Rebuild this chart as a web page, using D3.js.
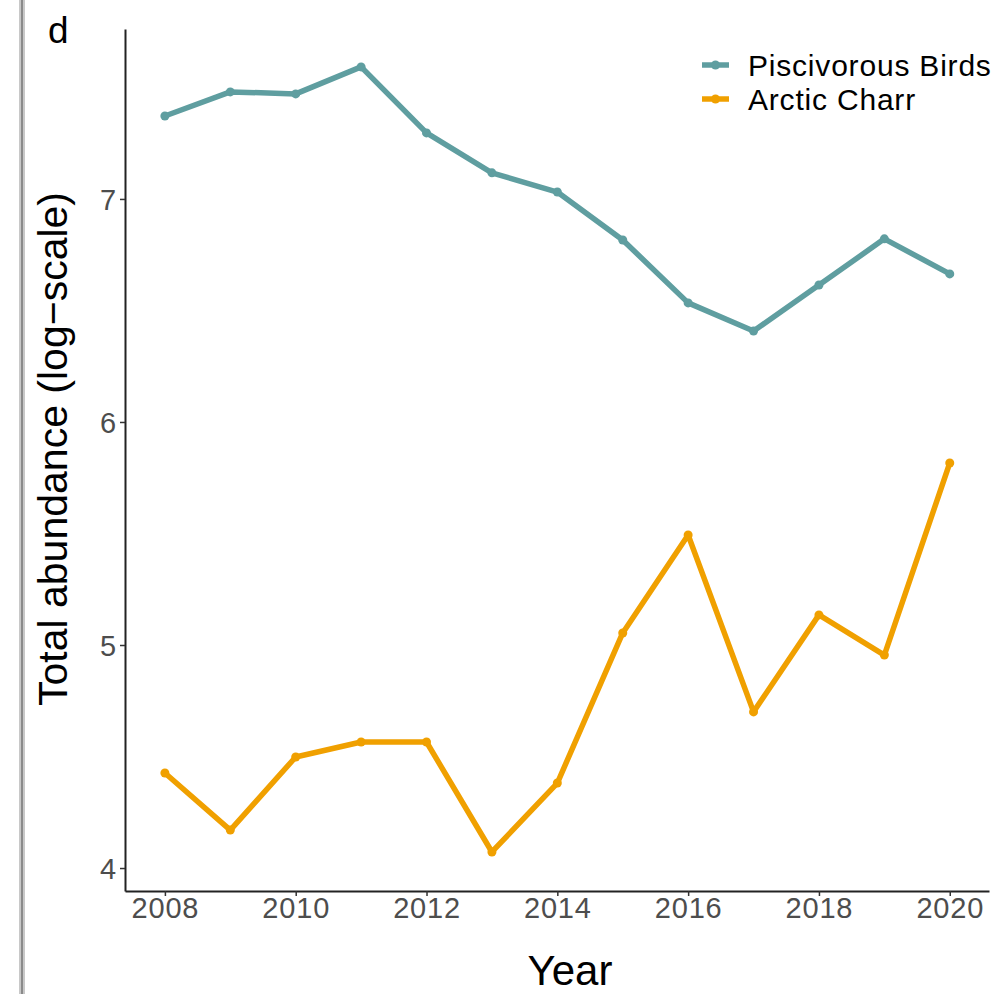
<!DOCTYPE html>
<html><head><meta charset="utf-8">
<script src="https://cdn.jsdelivr.net/npm/d3@7"></script>
<style>body{margin:0;background:#fff}svg{display:block;font-family:"Liberation Sans",Arial,Helvetica,sans-serif}</style>
</head><body>
<script>
const years = [2008,2009,2010,2011,2012,2013,2014,2015,2016,2017,2018,2019,2020];
const birds = [7.372,7.480,7.471,7.592,7.296,7.117,7.031,6.816,6.534,6.408,6.614,6.821,6.664];
const charr = [4.426,4.170,4.498,4.565,4.565,4.072,4.381,5.054,5.493,4.700,5.135,4.955,5.816];
const seriesNames = ["Piscivorous Birds","Arctic Charr"];
const seriesColors = ["#5F9EA0","#F0A000"];
const xTicks = [2008,2010,2012,2014,2016,2018,2020];
const yTicks = [4,5,6,7];

const W=1004,H=994;
const svg=d3.select("body").append("svg").attr("width",W).attr("height",H);
svg.append("rect").attr("width",W).attr("height",H).attr("fill","#fff");
// left border strip
svg.append("rect").attr("x",19).attr("y",0).attr("width",6).attr("height",H).attr("fill","#c8c8c8");
svg.append("rect").attr("x",21).attr("y",0).attr("width",2).attr("height",H).attr("fill","#8a8a8a");

const x=d3.scaleLinear().domain([2007.39,2020.6]).range([125,989]);
const y=d3.scaleLinear().domain([3.897,7.762]).range([891,29]);

const series=[birds,charr];
const line=d3.line().x((d,i)=>x(years[i])).y(d=>y(d));
series.forEach((s,k)=>{
  svg.append("path").datum(s).attr("d",line).attr("fill","none")
    .attr("stroke",seriesColors[k]).attr("stroke-width",5.5).attr("stroke-linejoin","round");
  svg.selectAll(null).data(s).enter().append("circle")
    .attr("cx",(d,i)=>x(years[i])).attr("cy",d=>y(d)).attr("r",4.5).attr("fill",seriesColors[k]);
});

// axes
const xa=svg.append("g").attr("transform","translate(0,891)")
  .call(d3.axisBottom(x).tickValues(xTicks).tickFormat(d3.format("d")).tickSize(5).tickSizeOuter(0).tickPadding(3));
const ya=svg.append("g").attr("transform","translate(125,0)")
  .call(d3.axisLeft(y).tickValues(yTicks).tickFormat(d3.format("d")).tickSize(5).tickSizeOuter(0).tickPadding(3));
[xa,ya].forEach(a=>{
  a.select(".domain").attr("stroke","#222").attr("stroke-width",2);
  a.selectAll(".tick line").attr("stroke","#333").attr("stroke-width",1.5);
  a.selectAll(".tick text").attr("fill","#4D4D4D").style("font-size","29px")
    .style("letter-spacing","0.8px").style("font-family","'Liberation Sans',Arial,sans-serif");
});
xa.selectAll(".tick text").attr("y",27).attr("dy","0");
ya.selectAll(".tick text").attr("x",-8).attr("dy","0.35em");

// titles
svg.append("text").attr("x",570).attr("y",985).attr("text-anchor","middle")
  .style("font-size","42px").attr("fill","#000").text("Year");
svg.append("text").attr("transform","translate(67,449) rotate(-90)").attr("text-anchor","middle")
  .style("font-size","41px").attr("fill","#000").text("Total abundance (log\u2212scale)");
svg.append("text").attr("x",48).attr("y",43).style("font-size","37px").attr("fill","#000").text("d");

// legend
seriesNames.forEach((n,k)=>{
  const ly=[65,99][k];
  svg.append("line").attr("x1",702).attr("x2",729).attr("y1",ly).attr("y2",ly)
    .attr("stroke",seriesColors[k]).attr("stroke-width",5.5);
  svg.append("circle").attr("cx",715.5).attr("cy",ly).attr("r",4.5).attr("fill",seriesColors[k]);
  svg.append("text").attr("x",748).attr("y",ly).attr("dy","0.36em").style("font-size","30px")
    .style("letter-spacing","0.8px").attr("fill","#000").text(n);
});
</script>
</body></html>
